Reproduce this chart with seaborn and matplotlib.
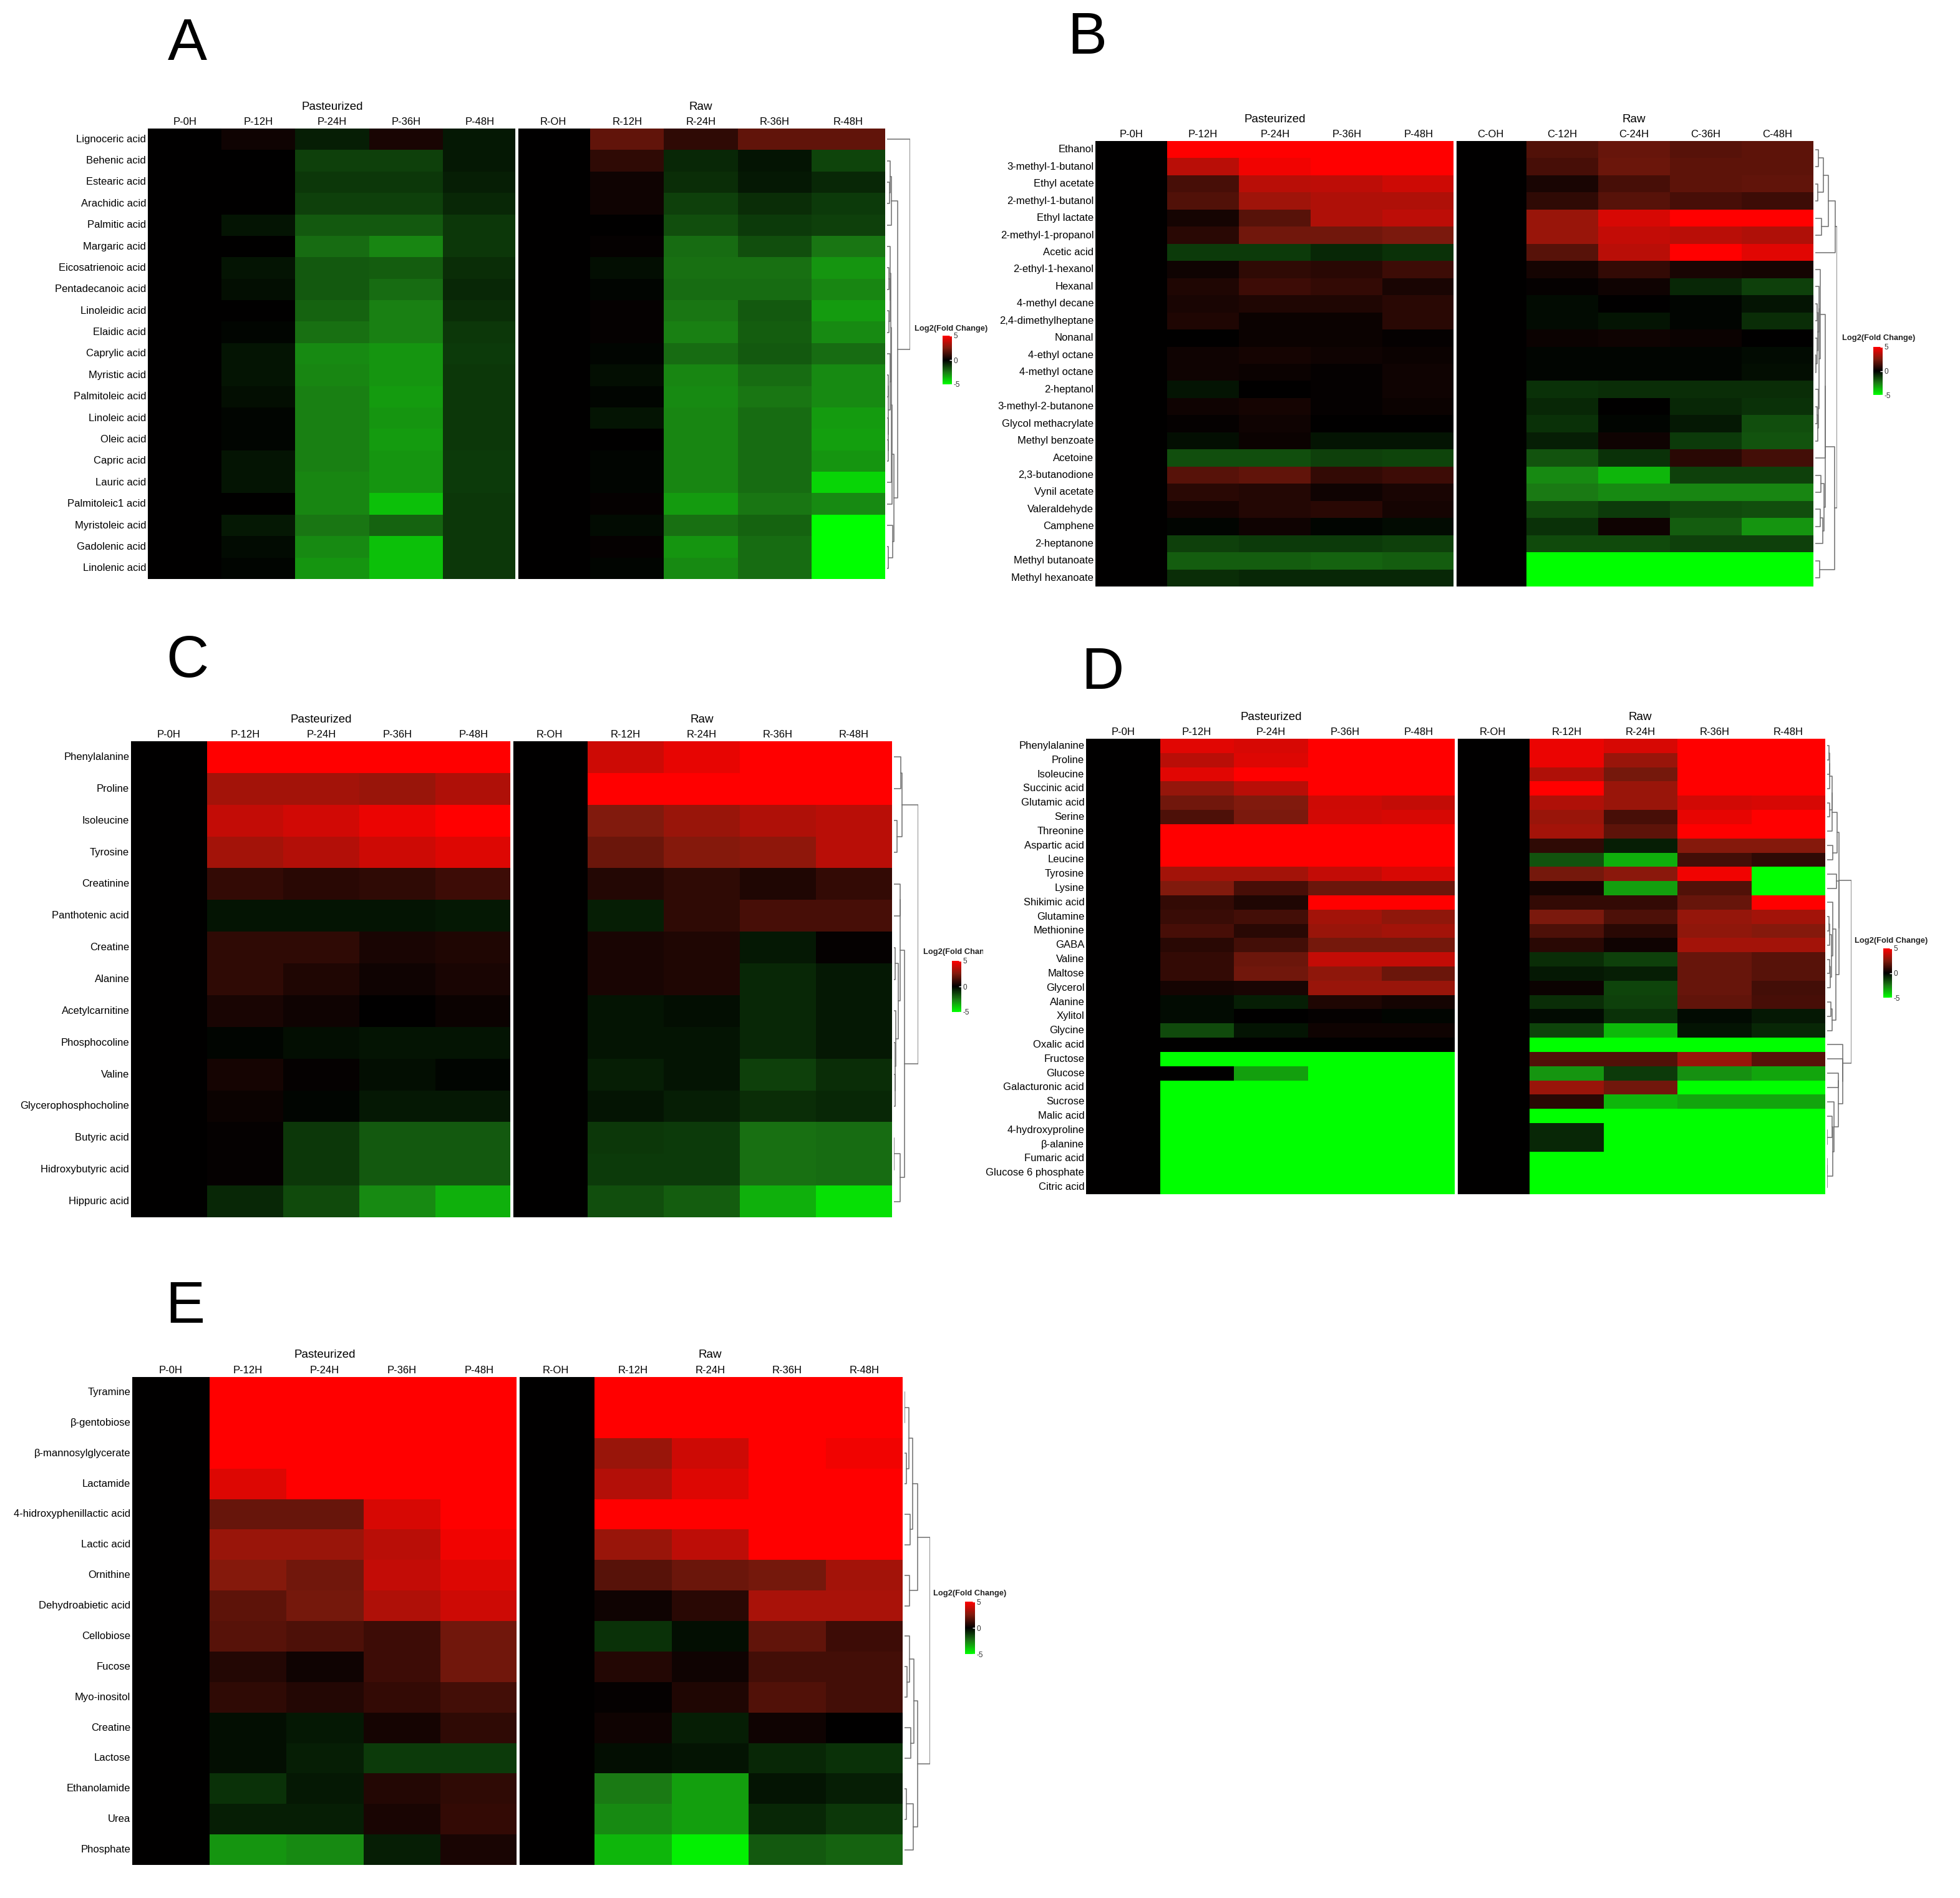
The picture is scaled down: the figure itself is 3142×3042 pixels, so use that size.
import numpy as np
import pandas as pd
import matplotlib
matplotlib.use('Agg')
import matplotlib.pyplot as plt
import seaborn as sns
from matplotlib import font_manager
from matplotlib.cm import ScalarMappable
from matplotlib.colors import LinearSegmentedColormap, Normalize
from matplotlib.transforms import Bbox, TransformedBbox

# ---- data (log2 fold change vs 0H) ----
groups = ['Pasteurized', 'Raw']
pr_cols = ['P-0H', 'P-12H', 'P-24H', 'P-36H', 'P-48H', 'R-OH', 'R-12H', 'R-24H', 'R-36H', 'R-48H']
pc_cols = ['P-0H', 'P-12H', 'P-24H', 'P-36H', 'P-48H', 'C-OH', 'C-12H', 'C-24H', 'C-36H', 'C-48H']

a_rows = ['Lignoceric acid', 'Behenic acid', 'Estearic acid', 'Arachidic acid', 'Palmitic acid',
          'Margaric acid', 'Eicosatrienoic acid', 'Pentadecanoic acid', 'Linoleidic acid', 'Elaidic acid',
          'Caprylic acid', 'Myristic acid', 'Palmitoleic acid', 'Linoleic acid', 'Oleic acid',
          'Capric acid', 'Lauric acid', 'Palmitoleic1 acid', 'Myristoleic acid', 'Gadolenic acid',
          'Linolenic acid']
a_vals = [
    [0, 0.3, -0.6, 0.5, -0.5, 0, 1.9, 0.9, 1.9, 1.9],
    [0, 0, -1.3, -1.3, -0.5, 0, 0.9, -0.8, -0.4, -1.4],
    [0, 0, -1.1, -1.1, -0.6, 0, 0.3, -0.9, -0.5, -0.8],
    [0, 0, -1.3, -1.3, -0.8, 0, 0.3, -1.3, -0.9, -1.2],
    [0, -0.4, -1.8, -1.8, -1.1, 0, 0, -1.6, -1.2, -1.3],
    [0, 0, -2.2, -2.7, -1.1, 0, 0.1, -2.2, -1.6, -2.4],
    [0, -0.4, -1.8, -1.9, -0.9, 0, -0.3, -2.3, -2.3, -3.0],
    [0, -0.3, -1.8, -2.2, -0.8, 0, -0.1, -2.2, -2.2, -2.7],
    [0, 0, -2.0, -2.6, -0.9, 0, 0.1, -2.4, -1.8, -3.1],
    [0, -0.1, -2.3, -2.6, -1.1, 0, 0.1, -2.6, -1.9, -2.8],
    [0, -0.4, -2.8, -3.0, -1.2, 0, -0.1, -2.2, -1.8, -2.2],
    [0, -0.4, -2.7, -3.0, -1.1, 0, -0.3, -2.7, -2.2, -2.8],
    [0, -0.3, -2.6, -3.1, -1.1, 0, -0.1, -2.8, -2.4, -2.8],
    [0, -0.1, -2.6, -3.0, -1.1, 0, -0.4, -2.7, -2.2, -3.1],
    [0, -0.1, -2.6, -3.1, -1.1, 0, 0, -2.7, -2.2, -3.2],
    [0, -0.4, -2.6, -3.0, -1.2, 0, -0.1, -2.7, -2.2, -3.0],
    [0, -0.4, -2.7, -3.0, -1.2, 0, -0.1, -2.7, -2.2, -4.2],
    [0, 0, -2.7, -3.8, -1.1, 0, 0.1, -3.1, -2.4, -2.8],
    [0, -0.5, -2.4, -2.0, -1.1, 0, -0.2, -2.3, -2.0, -5],
    [0, -0.2, -2.8, -3.8, -1.1, 0, 0.1, -3.0, -2.2, -5],
    [0, -0.1, -3.0, -3.8, -1.1, 0, -0.1, -2.8, -2.2, -5],
]

b_rows = ['Ethanol', '3-methyl-1-butanol', 'Ethyl acetate', '2-methyl-1-butanol', 'Ethyl lactate',
          '2-methyl-1-propanol', 'Acetic acid', '2-ethyl-1-hexanol', 'Hexanal', '4-methyl decane',
          '2,4-dimethylheptane', 'Nonanal', '4-ethyl octane', '4-methyl octane', '2-heptanol',
          '3-methyl-2-butanone', 'Glycol methacrylate', 'Methyl benzoate', 'Acetoine', '2,3-butanodione',
          'Vynil acetate', 'Valeraldehyde', 'Camphene', '2-heptanone', 'Methyl butanoate',
          'Methyl hexanoate']
b_vals = [
    [0, 5, 5, 5, 5, 0, 1.6, 2.0, 1.7, 1.8],
    [0, 3.6, 4.7, 5, 5, 0, 1.4, 2.1, 1.8, 1.8],
    [0, 1.4, 3.6, 3.7, 4.0, 0, 0.5, 1.4, 1.8, 1.9],
    [0, 1.6, 3.1, 3.4, 3.4, 0, 0.9, 1.7, 1.4, 1.2],
    [0, 0.4, 1.7, 3.4, 3.7, 0, 3.0, 4.2, 5, 5],
    [0, 0.8, 2.2, 2.2, 2.4, 0, 3.0, 3.8, 3.6, 3.4],
    [0, -1.2, -1.2, -0.8, -1.0, 0, 1.7, 3.6, 5, 4.4],
    [0, 0.3, 0.9, 0.8, 1.2, 0, 0.4, 1.0, 0.5, 0.4],
    [0, 0.6, 1.2, 1.0, 0.5, 0, 0.1, 0.3, -0.8, -1.3],
    [0, 0.5, 0.6, 0.6, 0.8, 0, -0.2, 0, -0.1, -0.4],
    [0, 0.6, 0.2, 0.2, 0.8, 0, -0.2, -0.4, -0.1, -0.9],
    [0, 0, 0.2, 0.2, 0.1, 0, 0.2, 0.3, 0.2, 0],
    [0, 0.3, 0.4, 0.3, 0.2, 0, -0.1, -0.1, -0.1, -0.2],
    [0, 0.3, 0.2, 0.1, 0.3, 0, -0.1, -0.1, -0.1, -0.3],
    [0, -0.4, 0, 0.1, 0.3, 0, -1.0, -0.9, -0.9, -0.9],
    [0, 0.3, 0.4, 0.1, 0.2, 0, -0.8, 0, -0.8, -1.0],
    [0, 0.1, 0.3, 0, 0, 0, -1.0, -0.1, -0.5, -1.6],
    [0, -0.3, 0.2, -0.4, -0.4, 0, -0.6, 0.3, -1.2, -1.7],
    [0, -1.6, -1.6, -1.3, -1.4, 0, -1.7, -1.0, 0.8, 1.3],
    [0, 1.7, 1.9, 1.0, 1.2, 0, -2.8, -3.6, -1.3, -1.3],
    [0, 0.8, 0.7, 0.3, 0.5, 0, -2.5, -2.8, -2.7, -2.7],
    [0, 0.4, 0.7, 0.8, 0.4, 0, -1.5, -1.2, -1.5, -1.6],
    [0, -0.1, 0.3, -0.1, -0.2, 0, -1.0, 0.3, -1.9, -3.0],
    [0, -1.3, -1.2, -1.2, -1.3, 0, -1.5, -1.5, -1.3, -1.3],
    [0, -1.9, -1.9, -2.0, -1.9, 0, -5, -5, -5, -5],
    [0, -0.9, -0.8, -0.8, -0.8, 0, -5, -5, -5, -5],
]

c_rows = ['Phenylalanine', 'Proline', 'Isoleucine', 'Tyrosine', 'Creatinine', 'Panthotenic acid',
          'Creatine', 'Alanine', 'Acetylcarnitine', 'Phosphocoline', 'Valine', 'Glycerophosphocholine',
          'Butyric acid', 'Hidroxybutyric acid', 'Hippuric acid']
c_vals = [
    [0, 5, 5, 5, 5, 0, 4.0, 4.5, 5, 5],
    [0, 3.2, 3.2, 3.0, 3.4, 0, 5, 5, 5, 5],
    [0, 3.8, 4.1, 4.6, 5, 0, 2.5, 3.0, 3.4, 3.6],
    [0, 3.2, 3.5, 4.0, 4.3, 0, 2.1, 2.6, 2.8, 3.6],
    [0, 1.0, 0.8, 0.9, 1.2, 0, 0.7, 0.9, 0.6, 1.0],
    [0, -0.4, -0.4, -0.4, -0.5, 0, -0.6, 0.9, 1.4, 1.4],
    [0, 0.9, 0.9, 0.5, 0.6, 0, 0.5, 0.6, -0.5, 0.1],
    [0, 0.9, 0.6, 0.3, 0.5, 0, 0.5, 0.6, -0.8, -0.5],
    [0, 0.5, 0.3, 0, 0.2, 0, -0.4, -0.3, -0.8, -0.5],
    [0, -0.1, -0.3, -0.4, -0.4, 0, -0.4, -0.4, -0.8, -0.5],
    [0, 0.4, 0.1, -0.3, -0.1, 0, -0.6, -0.4, -1.3, -0.9],
    [0, 0.2, -0.1, -0.5, -0.5, 0, -0.4, -0.6, -0.9, -0.8],
    [0, 0.1, -1.1, -1.8, -1.8, 0, -1.1, -1.2, -2.3, -2.2],
    [0, 0.1, -1.1, -1.8, -1.8, 0, -1.2, -1.2, -2.3, -2.2],
    [0, -0.8, -1.5, -2.8, -3.5, 0, -1.6, -1.9, -3.5, -4.4],
]

d_rows = ['Phenylalanine', 'Proline', 'Isoleucine', 'Succinic acid', 'Glutamic acid', 'Serine',
          'Threonine', 'Aspartic acid', 'Leucine', 'Tyrosine', 'Lysine', 'Shikimic acid', 'Glutamine',
          'Methionine', 'GABA', 'Valine', 'Maltose', 'Glycerol', 'Alanine', 'Xylitol', 'Glycine',
          'Oxalic acid', 'Fructose', 'Glucose', 'Galacturonic acid', 'Sucrose', 'Malic acid',
          '4-hydroxyproline', 'β-alanine', 'Fumaric acid', 'Glucose 6 phosphate', 'Citric acid']
d_vals = [
    [0, 4.4, 4.2, 5, 5, 0, 4.6, 4.2, 5, 5],
    [0, 3.6, 4.3, 5, 5, 0, 4.6, 3.0, 5, 5],
    [0, 4.4, 5, 5, 5, 0, 3.4, 2.3, 5, 5],
    [0, 2.9, 3.6, 5, 5, 0, 5, 3.0, 5, 5],
    [0, 2.2, 2.5, 4.0, 3.8, 0, 3.4, 3.0, 4.1, 4.2],
    [0, 1.5, 2.4, 4.1, 4.2, 0, 3.0, 1.4, 4.5, 5],
    [0, 5, 5, 5, 5, 0, 3.2, 1.8, 5, 5],
    [0, 5, 5, 5, 5, 0, 0.9, -0.6, 2.6, 2.6],
    [0, 5, 5, 5, 5, 0, -1.7, -3.5, 1.3, 0.9],
    [0, 3.2, 3.2, 3.8, 4.2, 0, 2.3, 2.7, 4.7, -5],
    [0, 2.5, 1.4, 2.1, 2.1, 0, 0.4, -3.2, 1.6, -5],
    [0, 1.0, 0.6, 5, 5, 0, 1.0, 1.0, 2.0, 5],
    [0, 1.1, 1.3, 3.2, 2.8, 0, 2.4, 1.5, 2.9, 3.2],
    [0, 1.4, 0.8, 3.0, 3.2, 0, 1.5, 0.8, 2.8, 2.6],
    [0, 0.8, 1.3, 2.3, 2.3, 0, 0.8, 0.3, 3.2, 3.2],
    [0, 1.0, 2.1, 3.8, 3.8, 0, -0.9, -1.3, 2.0, 1.7],
    [0, 1.0, 2.2, 2.8, 2.1, 0, -0.5, -0.6, 2.0, 1.7],
    [0, 0.4, 0.5, 3.0, 3.0, 0, 0.2, -1.4, 2.0, 1.3],
    [0, -0.2, -0.6, 0.6, 0.4, 0, -0.9, -1.3, 1.9, 1.4],
    [0, -0.2, 0, 0.1, -0.1, 0, -0.2, -1.0, -0.2, -0.5],
    [0, -1.5, -0.4, 0.3, 0.3, 0, -1.4, -3.7, -0.4, -0.8],
    [0, 0, 0, 0, 0, 0, -5, -5, -5, -5],
    [0, -5, -5, -5, -5, 0, 1.6, 1.6, 3.0, 1.7],
    [0, 0, -3.2, -5, -5, 0, -3.0, -1.2, -2.9, -3.3],
    [0, -5, -5, -5, -5, 0, 3.0, 2.2, -5, -5],
    [0, -5, -5, -5, -5, 0, 0.8, -3.6, -3.3, -3.3],
    [0, -5, -5, -5, -5, 0, -5, -5, -5, -5],
    [0, -5, -5, -5, -5, 0, -0.8, -5, -5, -5],
    [0, -5, -5, -5, -5, 0, -0.8, -5, -5, -5],
    [0, -5, -5, -5, -5, 0, -5, -5, -5, -5],
    [0, -5, -5, -5, -5, 0, -5, -5, -5, -5],
    [0, -5, -5, -5, -5, 0, -5, -5, -5, -5],
]

e_rows = ['Tyramine', 'β-gentobiose', 'β-mannosylglycerate', 'Lactamide', '4-hidroxyphenillactic acid',
          'Lactic acid', 'Ornithine', 'Dehydroabietic acid', 'Cellobiose', 'Fucose', 'Myo-inositol',
          'Creatine', 'Lactose', 'Ethanolamide', 'Urea', 'Phosphate']
e_vals = [
    [0, 5, 5, 5, 5, 0, 5, 5, 5, 5],
    [0, 5, 5, 5, 5, 0, 5, 5, 5, 5],
    [0, 5, 5, 5, 5, 0, 3.0, 4.0, 5, 4.7],
    [0, 4.3, 5, 5, 5, 0, 3.5, 4.3, 5, 5],
    [0, 2.0, 2.0, 4.2, 5, 0, 5, 5, 5, 5],
    [0, 3.0, 3.0, 3.6, 4.7, 0, 3.0, 3.7, 5, 5],
    [0, 2.6, 2.2, 3.8, 4.3, 0, 1.7, 2.1, 2.3, 3.2],
    [0, 1.8, 2.3, 3.4, 4.0, 0, 0.3, 0.8, 3.3, 3.3],
    [0, 1.7, 1.5, 1.2, 2.2, 0, -1.0, -0.3, 1.9, 1.2],
    [0, 0.7, 0.3, 1.2, 2.2, 0, 0.7, 0.3, 1.3, 1.3],
    [0, 0.9, 0.7, 1.0, 1.3, 0, 0.1, 0.6, 1.6, 1.3],
    [0, -0.3, -0.5, 0.4, 0.9, 0, 0.3, -0.6, 0.3, 0],
    [0, -0.3, -0.6, -1.2, -1.2, 0, -0.3, -0.4, -0.8, -1.0],
    [0, -1.0, -0.5, 0.7, 0.9, 0, -2.5, -3.2, -0.4, -0.6],
    [0, -0.6, -0.6, 0.5, 1.0, 0, -2.8, -3.2, -0.8, -1.1],
    [0, -3.0, -2.8, -0.6, 0.5, 0, -3.6, -4.7, -1.8, -2.0],
]

# ---- style ----
W, H = 3142, 3042
fig = plt.figure(figsize=(W / 100, H / 100), dpi=100)
plt.rcParams['axes.unicode_minus'] = False

names = {f.name for f in font_manager.fontManager.ttflist}
if 'Liberation Sans Narrow' in names:
    plt.rcParams['font.family'] = ['Liberation Sans Narrow', 'DejaVu Sans']
    lab_fs = 13.5
else:
    plt.rcParams['font.family'] = ['Liberation Sans', 'DejaVu Sans']
    lab_fs = 12

cmap = LinearSegmentedColormap.from_list(
    'gkr', [(0, '#00ff00'), (0.25, '#1a7a14'), (0.5, '#000000'), (0.75, '#801a0d'), (1, '#ff0000')])


def px_axes(x0, y0, x1, y1):
    return fig.add_axes([x0 / W, 1 - y1 / H, (x1 - x0) / W, (y1 - y0) / H])


def adjacent_tree(X):
    # agglomerative clustering that only merges neighbouring clusters (keeps row order)
    clusters = [([i], i + 0.5, 0.0) for i in range(len(X))]
    links = []
    while len(clusters) > 1:
        best = None
        for k in range(len(clusters) - 1):
            a, b = X[clusters[k][0]], X[clusters[k + 1][0]]
            d = np.mean(np.sqrt(((a[:, None, :] - b[None, :, :]) ** 2).sum(-1)))
            if best is None or d < best[0]:
                best = (d, k)
        d, k = best
        ca, cb = clusters[k], clusters[k + 1]
        h = max(d, ca[2], cb[2]) + 0.05
        links.append((ca[1], ca[2], cb[1], cb[2], h))
        clusters[k:k + 2] = [(ca[0] + cb[0], (ca[1] + cb[1]) / 2, h)]
    return links


def draw_panel(letter, rows, cols, vals, box, dend_x1, leg_xy, cbar_box, letter_xy, clip_x=None):
    df = pd.DataFrame(vals, index=rows, columns=cols)
    ax = px_axes(*box)
    sns.heatmap(df, ax=ax, cmap=cmap, vmin=-5, vmax=5, cbar=False,
                xticklabels=True, yticklabels=True)
    ax.xaxis.tick_top()
    ax.tick_params(axis='both', length=0, labelsize=lab_fs, pad=2)
    plt.setp(ax.get_xticklabels(), rotation=0)
    plt.setp(ax.get_yticklabels(), rotation=0)
    ax.axvline(5, color='white', lw=3.5)
    for gx, g in zip([2.5, 7.5], groups):
        ax.annotate(g, xy=(gx, 1), xycoords=('data', 'axes fraction'), xytext=(0, 35),
                    textcoords='offset pixels', ha='center', va='center', fontsize=lab_fs + 1.5)

    # row dendrogram on the right
    dax = px_axes(box[2] + 3, box[1], dend_x1, box[3])
    links = adjacent_tree(np.array(vals, dtype=float))
    for ya, ha, yb, hb, h in links:
        dax.plot([ha, h, h, hb], [ya, ya, yb, yb], color='#6e6e6e', lw=1.1)
    dax.set_ylim(len(rows), 0)
    dax.set_xlim(0, links[-1][4] * 1.01)
    dax.axis('off')

    # legend
    t = fig.text(leg_xy[0] / W, 1 - leg_xy[1] / H, 'Log2(Fold Change)', fontsize=9.3,
                 family=['Liberation Sans', 'DejaVu Sans'], fontweight='bold',
                 color='#222222', ha='left', va='center')
    if clip_x is not None:
        t.set_clip_box(TransformedBbox(Bbox([[0, 0], [clip_x / W, 1]]), fig.transFigure))
        t.set_clip_on(True)
    cax = px_axes(*cbar_box)
    cb = fig.colorbar(ScalarMappable(norm=Normalize(-5, 5), cmap=cmap), cax=cax, ticks=[-5, 0, 5])
    cb.outline.set_visible(False)
    cax.tick_params(labelsize=8.5, direction='in', color='white', labelcolor='#333333',
                    length=3, width=1, pad=2)

    fig.text(letter_xy[0] / W, 1 - letter_xy[1] / H, letter, fontsize=68,
             family=['Liberation Sans', 'DejaVu Sans'], ha='center', va='center')


draw_panel('A', a_rows, pr_cols, a_vals, (237, 206, 1419, 928), 1459,
           (1466, 527), (1511, 538, 1526, 616), (300, 72))
draw_panel('B', b_rows, pc_cols, b_vals, (1756, 226, 2907, 940), 2945,
           (2953, 542), (3003, 556, 3018, 633), (1743, 62))
draw_panel('C', c_rows, pr_cols, c_vals, (210, 1188, 1430, 1951), 1472,
           (1480, 1526), (1526, 1540, 1541, 1622), (300, 1060), clip_x=1576)
draw_panel('D', d_rows, pr_cols, d_vals, (1741, 1184, 2926, 1914), 2968,
           (2973, 1508), (3019, 1520, 3033, 1599), (1767, 1080))
draw_panel('E', e_rows, pr_cols, e_vals, (212, 2207, 1447, 2989), 1491,
           (1496, 2554), (1547, 2567, 1563, 2651), (297, 2096))

fig.savefig('out.png', dpi=100)
